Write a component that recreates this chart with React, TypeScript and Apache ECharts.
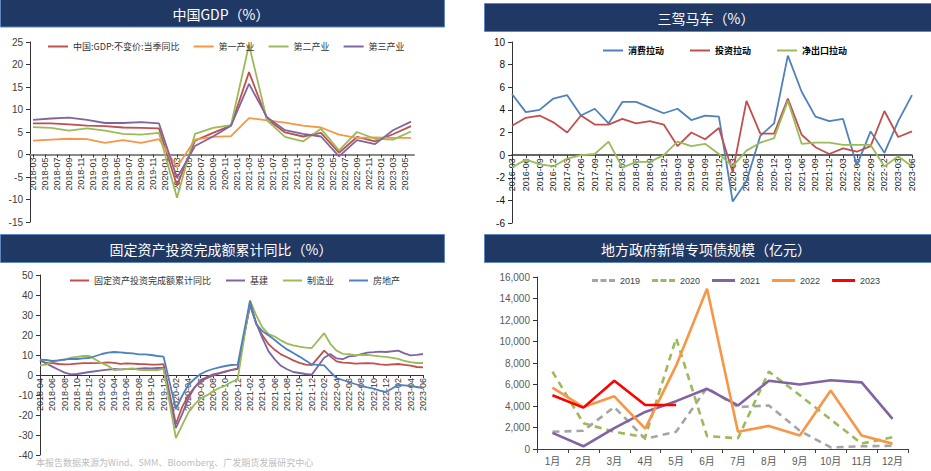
import React, { useEffect, useRef } from "react";
import * as echarts from "echarts";

// ---------- helpers for calendar labels ----------
function monthRange(sy: number, sm: number, ey: number, em: number): string[] {
  const out: string[] = [];
  let y = sy, m = sm;
  while (y < ey || (y === ey && m <= em)) {
    out.push(`${y}-${m < 10 ? "0" + m : m}`);
    m++;
    if (m > 12) { m = 1; y++; }
  }
  return out;
}

// ---------- Chart 1: 中国GDP (quarterly, on a monthly axis) ----------
const gdpMonths = monthRange(2018, 3, 2023, 6);
const gdpTotal = [6.9, 6.9, 6.7, 6.4, 6.3, 6.0, 5.9, 5.8, -6.9, 3.1, 4.8, 6.4, 18.3, 7.9, 4.9, 4.0, 4.8, 0.4, 3.9, 2.9, 4.5, 6.3];
const gdpPrimary = [3.1, 3.3, 3.5, 3.4, 2.6, 3.2, 2.6, 3.4, -2.8, 3.3, 3.9, 4.1, 8.1, 7.6, 7.1, 6.4, 6.0, 4.4, 3.7, 3.8, 3.7, 3.7];
const gdpSecondary = [6.1, 5.9, 5.3, 5.8, 5.3, 4.6, 4.4, 4.8, -9.6, 4.6, 5.9, 6.5, 24.4, 7.6, 3.9, 2.9, 5.7, 0.9, 5.0, 3.5, 3.3, 5.1];
const gdpTertiary = [7.7, 8.0, 8.2, 7.7, 7.0, 7.0, 7.2, 6.9, -5.2, 1.9, 4.0, 6.4, 15.7, 8.3, 5.4, 4.6, 4.0, -0.4, 3.2, 2.3, 5.4, 7.3];

// ---------- Chart 2: 三驾马车 ----------
const troikaQuarters = [
  "2016-03", "2016-06", "2016-09", "2016-12", "2017-03", "2017-06", "2017-09", "2017-12",
  "2018-03", "2018-06", "2018-09", "2018-12", "2019-03", "2019-06", "2019-09", "2019-12",
  "2020-03", "2020-06", "2020-09", "2020-12", "2021-03", "2021-06", "2021-09", "2021-12",
  "2022-03", "2022-06", "2022-09", "2022-12", "2023-03", "2023-06",
];
const consumption = [5.4, 3.8, 4.0, 5.0, 5.3, 3.5, 4.1, 2.8, 4.7, 4.7, 4.2, 3.7, 4.1, 3.1, 3.5, 3.4, -4.1, -2.3, 1.7, 2.8, 8.8, 5.6, 3.4, 3.0, 3.2, -0.9, 2.1, 0.2, 3.0, 5.3];
const investment = [2.6, 3.3, 3.5, 2.9, 2.0, 3.5, 2.7, 2.7, 3.2, 2.8, 3.0, 2.7, 0.8, 2.0, 1.4, 2.4, -1.5, 4.8, 1.9, 1.9, 5.0, 1.8, 0.7, 0.1, 0.6, 0.3, 0.8, 3.9, 1.6, 2.1];
const netExports = [-1.1, -0.4, -0.8, -1.0, -0.3, 0.0, 0.1, 1.2, -1.1, -0.6, -0.6, 0.0, 1.2, 0.8, 1.0, 0.1, -1.0, 0.4, 1.1, 1.5, 4.8, 1.0, 1.1, 1.1, 0.9, 0.9, 0.9, -1.0, -0.1, -1.0];

// ---------- Chart 3: 固定资产投资完成额累计同比 (monthly, January empty) ----------
const faiMonths = monthRange(2018, 4, 2023, 6);
const faiTotal = [
  7.0, 6.1, 6.0, 5.5, 5.3, 5.4, 5.7, 5.9, 5.9,
  null, 6.1, 6.3, 6.1, 5.6, 5.8, 5.7, 5.5, 5.4, 5.2, 5.2, 5.4,
  null, -24.5, -16.1, -10.3, -6.3, -3.1, -1.6, -0.3, 0.8, 1.8, 2.6, 2.9,
  null, 35.0, 25.6, 19.9, 15.4, 12.6, 10.3, 8.9, 7.3, 6.1, 5.2, 4.9,
  null, 12.2, 9.3, 6.8, 6.2, 6.1, 5.7, 5.8, 5.9, 5.8, 5.3, 5.1,
  null, 5.5, 5.1, 4.7, 4.0, 3.8,
];
const faiInfra = [
  7.5, 5.8, 4.2, 2.6, 1.2, 0.3, 0.5, 1.0, 1.5,
  null, 2.3, 2.7, 3.0, 2.8, 3.0, 3.0, 3.2, 3.4, 3.3, 3.5, 3.5,
  null, -26.5, -19.7, -11.8, -6.3, -2.7, -1.0, 0.3, 0.9, 1.6, 2.5, 3.3,
  null, 35.0, 26.0, 18.4, 11.8, 7.8, 4.6, 2.9, 1.5, 1.0, 0.5, 0.2,
  null, 8.6, 10.5, 8.3, 7.9, 9.3, 9.6, 10.4, 11.2, 11.4, 11.7, 11.5,
  null, 12.2, 10.8, 9.8, 10.1, 10.5,
];
const faiManufacturing = [
  4.8, 5.2, 6.8, 7.3, 7.5, 8.7, 9.1, 9.5, 9.5,
  null, 5.9, 4.6, 2.5, 2.7, 3.0, 3.3, 2.6, 2.5, 2.6, 2.5, 3.1,
  null, -31.5, -25.2, -18.8, -14.8, -11.7, -10.2, -8.1, -6.5, -5.3, -3.5, -2.2,
  null, 37.3, 29.8, 23.8, 20.4, 19.2, 17.3, 15.7, 14.8, 14.2, 13.7, 13.5,
  null, 20.9, 15.6, 12.2, 10.6, 10.4, 9.9, 10.0, 10.1, 9.7, 9.3, 9.1,
  null, 8.1, 7.0, 6.4, 6.0, 6.0,
];
const faiRealEstate = [
  7.7, 7.5, 7.0, 7.3, 7.8, 8.0, 8.0, 8.3, 8.5,
  null, 10.5, 11.2, 11.5, 11.3, 11.0, 10.8, 10.3, 10.3, 10.0, 9.5, 9.2,
  null, -17.0, -10.5, -5.0, -2.0, 0.5, 2.0, 3.0, 3.8, 4.5, 5.0, 5.2,
  null, 37.0, 25.5, 22.0, 19.8, 17.5, 15.0, 12.8, 11.0, 9.2, 7.2, 5.3,
  null, 4.8, 1.5, -1.5, -2.5, -3.5, -4.5, -5.5, -6.2, -6.8, -7.8, -8.5,
  null, -5.0, -5.2, -5.5, -6.0, -6.5,
];

// ---------- Chart 4: 地方政府新增专项债规模 ----------
const bondMonths = ["1月", "2月", "3月", "4月", "5月", "6月", "7月", "8月", "9月", "10月", "11月", "12月"];
const bond2019 = [1600, 1700, 3900, 950, 1600, 5700, 3900, 4050, 1700, 150, 250, 300];
const bond2020 = [7200, 2400, 1600, 1100, 10300, 1200, 1000, 7200, 5000, 2750, 500, 1100];
const bond2021 = [1500, 250, 1950, 3450, 4450, 5600, 4050, 6350, 6000, 6400, 6200, 2800];
const bond2022 = [5700, 3900, 4900, 1900, 7750, 14900, 1600, 2150, 1250, 5450, 1250, 500];
const bond2023 = [5000, 3850, 6350, 4100, 4100];

const FONT = "'Liberation Sans', 'Noto Sans CJK SC', sans-serif";
const CJK = "'Noto Sans CJK SC', sans-serif";
const C = {
  red: "#C0504D",
  orange: "#F79646",
  green: "#9BBB59",
  purple: "#8064A2",
  blue: "#4F81BD",
  grey: "#A5A5A5",
  brightRed: "#FF0000",
  navy: "#1F3864",
};
const DASH_ICON = "path://M0,0h6v3h-6z M8.5,0h6v3h-6z M17,0h6v3h-6z";

function onMonthly(months: string[], start: string, step: number, vals: number[]) {
  const arr: (number | null)[] = months.map(() => null);
  const s = months.indexOf(start);
  vals.forEach((v, i) => { arr[s + i * step] = v; });
  return arr;
}

export default function App() {
  const ref = useRef<HTMLDivElement>(null);
  useEffect(() => {
    if (!ref.current) return;
    const chart = echarts.init(ref.current, undefined, { renderer: "svg" });

    const line = (name: string, color: string, xi: number, data: any[], width = 1.8, extra: any = {}) => ({
      name, type: "line", xAxisIndex: xi, yAxisIndex: xi, data, symbol: "none", showSymbol: false,
      connectNulls: true, color, itemStyle: { color }, lineStyle: { color, width, ...extra }, emphasis: { disabled: true },
    });

    const yBase = (gi: number, min: number, max: number, interval: number, color = "#404040", fmt?: any) => ({
      type: "value", gridIndex: gi, min, max, interval,
      axisLine: { show: true, lineStyle: { color: "#333", width: 1 } },
      axisTick: { show: true, length: 4, lineStyle: { color: "#333" } },
      splitLine: { show: false },
      axisLabel: { fontSize: 10, color, fontFamily: FONT, margin: 7, formatter: fmt },
    });

    // x axis placed on the zero line of a value range: offset from grid bottom
    const zeroOffset = (min: number, max: number, h: number) => -((0 - min) / (max - min)) * h;

    const titleBar = (x: number, y: number, w: number, h: number, text: string, cx: number, cy: number) => ([
      { type: "rect", shape: { x, y, width: w, height: h }, style: { fill: C.navy, stroke: "#5E86C1", lineWidth: 1 } },
      { type: "text", style: { text, x: cx, y: cy, fill: "#fff", font: `14px ${CJK}`, textAlign: "center", textVerticalAlign: "middle" } },
    ]);

    const lg = (names: string[]) => names.map((n) => ({ name: n }));

    const option: any = {
      animation: false,
      backgroundColor: "#fff",
      textStyle: { fontFamily: FONT },
      graphic: [
        ...titleBar(0.5, -1, 444, 28, "中国GDP（%）", 221, 14),
        ...titleBar(484.5, 3.5, 448, 28, "三驾马车（%）", 706, 18),
        ...titleBar(0.5, 234.5, 444, 28, "固定资产投资完成额累计同比（%）", 221, 249),
        ...titleBar(484.5, 234.5, 448, 28, "地方政府新增专项债规模（亿元）", 706, 249),
        { type: "text", style: { text: "本报告数据来源为Wind、SMM、Bloomberg、广发期货发展研究中心", x: 36, y: 458, fill: "#bdbdbd", font: `9px ${CJK}`, textVerticalAlign: "top" } },
      ],
      grid: [
        { left: 30, top: 42, width: 384, height: 180 },
        { left: 512, top: 42, width: 400, height: 181 },
        { left: 40, top: 275, width: 383, height: 180 },
        { left: 537, top: 277, width: 371, height: 172 },
      ],
      legend: [
        { left: 43, top: 37, icon: "rect", itemWidth: 20, itemHeight: 2, itemGap: 14, textStyle: { fontSize: 9, color: "#333", fontFamily: CJK }, data: lg(["中国:GDP:不变价:当季同比", "第一产业", "第二产业", "第三产业"]) },
        { left: 598, top: 41, icon: "rect", itemWidth: 20, itemHeight: 2, itemGap: 26, textStyle: { fontSize: 9, color: "#000", fontFamily: CJK, fontWeight: "bold" }, data: lg(["消费拉动", "投资拉动", "净出口拉动"]) },
        { left: 65, top: 271, icon: "rect", itemWidth: 19, itemHeight: 2, itemGap: 15, textStyle: { fontSize: 9, color: "#333", fontFamily: CJK }, data: lg(["固定资产投资完成额累计同比", "基建", "制造业", "房地产"]) },
        {
          left: 587, top: 271, icon: "rect", itemWidth: 23, itemHeight: 3, itemGap: 12,
          textStyle: { fontSize: 9, color: "#404040", fontFamily: FONT },
          data: [{ name: "2019", icon: DASH_ICON }, { name: "2020", icon: DASH_ICON }, { name: "2021" }, { name: "2022" }, { name: "2023" }],
        },
      ],
      xAxis: [
        {
          type: "category", gridIndex: 0, data: gdpMonths, boundaryGap: true,
          offset: zeroOffset(-15, 25, 180),
          axisLine: { onZero: false, lineStyle: { color: "#8a8a8a", width: 2 } },
          axisTick: { show: true, alignWithLabel: true, interval: 1, length: 3, lineStyle: { color: "#333" } },
          axisLabel: { interval: 1, rotate: 90, fontSize: 9, color: "#333", margin: 3, fontFamily: FONT },
        },
        {
          type: "category", gridIndex: 1, data: troikaQuarters, boundaryGap: false,
          offset: zeroOffset(-6, 10, 181),
          axisLine: { onZero: false, lineStyle: { color: "#333", width: 1.5 } },
          axisTick: { show: true, length: 3, lineStyle: { color: "#333" } },
          axisLabel: { interval: 0, rotate: 90, fontSize: 9, color: "#222", margin: 3, fontFamily: FONT },
        },
        {
          type: "category", gridIndex: 2, data: faiMonths, boundaryGap: false,
          offset: zeroOffset(-40, 50, 180),
          axisLine: { onZero: false, lineStyle: { color: "#333", width: 1 } },
          axisTick: { show: true, interval: 1, length: 3, lineStyle: { color: "#333" } },
          axisLabel: { interval: 1, rotate: 90, fontSize: 9, color: "#333", margin: 3, fontFamily: FONT },
        },
        {
          type: "category", gridIndex: 3, data: bondMonths, boundaryGap: true,
          axisLine: { lineStyle: { color: "#404040", width: 1.2 } },
          axisTick: { show: true, length: 4, lineStyle: { color: "#404040" } },
          axisLabel: { fontSize: 10, color: "#595959", margin: 7, fontFamily: FONT },
        },
      ],
      yAxis: [
        yBase(0, -15, 25, 5),
        yBase(1, -6, 10, 2, "#111"),
        yBase(2, -40, 50, 10),
        yBase(3, 0, 16000, 2000, "#595959", (v: number) => v.toLocaleString("en-US")),
      ],
      series: [
        line("中国:GDP:不变价:当季同比", C.red, 0, onMonthly(gdpMonths, "2018-03", 3, gdpTotal)),
        line("第一产业", C.orange, 0, onMonthly(gdpMonths, "2018-03", 3, gdpPrimary)),
        line("第二产业", C.green, 0, onMonthly(gdpMonths, "2018-03", 3, gdpSecondary)),
        line("第三产业", C.purple, 0, onMonthly(gdpMonths, "2018-03", 3, gdpTertiary)),

        line("消费拉动", C.blue, 1, consumption),
        line("投资拉动", C.red, 1, investment),
        line("净出口拉动", C.green, 1, netExports),

        line("固定资产投资完成额累计同比", C.red, 2, faiTotal),
        line("基建", C.purple, 2, faiInfra),
        line("制造业", C.green, 2, faiManufacturing),
        line("房地产", C.blue, 2, faiRealEstate),

        line("2019", C.grey, 3, bond2019, 2.6, { type: [7, 5] }),
        line("2020", C.green, 3, bond2020, 2.6, { type: [7, 5] }),
        line("2021", C.purple, 3, bond2021, 2.6),
        line("2022", C.orange, 3, bond2022, 2.6),
        line("2023", C.brightRed, 3, bond2023, 2.6),
      ],
    };
    chart.setOption(option);
    return () => chart.dispose();
  }, []);

  return (
    <div
      ref={ref}
      style={{ position: "fixed", left: 0, top: 0, width: 931, height: 471, background: "#fff" }}
    />
  );
}
